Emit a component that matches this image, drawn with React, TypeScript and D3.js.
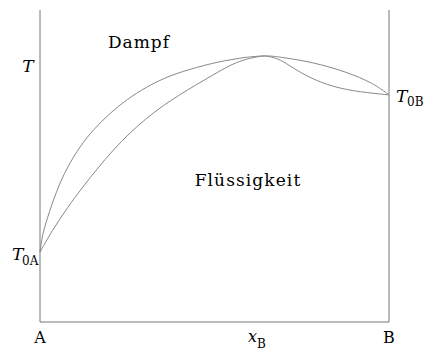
import React from 'react';
import * as d3 from 'd3';

// mole fraction x_B (0..1) and temperature (arbitrary 0..100)
const dewX = [0, 0.006, 0.019, 0.048, 0.077, 0.115, 0.153, 0.201, 0.248, 0.306, 0.353, 0.401, 0.496, 0.564, 0.6, 0.639, 0.66, 0.688, 0.782, 0.88, 0.954, 1];
const dewT = [22.4, 27.5, 32.7, 42.3, 49.4, 56.4, 61.7, 67.0, 71.3, 75.4, 78.0, 80.1, 83.1, 84.4, 85.0, 85.3, 85.3, 84.9, 83.3, 80.1, 76.6, 72.8];

const boilX = [0, 0.034, 0.08, 0.12, 0.163, 0.21, 0.258, 0.306, 0.353, 0.401, 0.444, 0.496, 0.544, 0.582, 0.621, 0.639, 0.655, 0.688, 0.725, 0.774, 0.84, 0.917, 1];
const boilT = [22.4, 29.2, 36.9, 42.9, 49.0, 55.2, 60.7, 65.4, 69.4, 72.9, 75.8, 79.2, 82.3, 84.0, 85.0, 85.3, 85.2, 84.2, 81.4, 78.2, 75.3, 73.7, 72.8];

const azeoX = 0.639;

const W = 425;
const H = 352;
const font = "'DejaVu Serif', serif";

const App = () => {
  const x = d3.scaleLinear().domain([0, 1]).range([40, 389]);
  const y = d3.scaleLinear().domain([0, 100]).range([322, 10]);

  const line = d3.line<[number, number]>()
    .x(d => x(d[0]))
    .y(d => y(d[1]))
    .curve(d3.curveBasis);

  const dew = dewX.map((v, i) => [v, dewT[i]] as [number, number]);
  const boil = boilX.map((v, i) => [v, boilT[i]] as [number, number]);

  const t0A = y(dewT[0]);
  const t0B = y(dewT[dewT.length - 1]);

  return (
    <svg width={W} height={H} style={{ position: 'absolute', left: 0, top: 0 }} fontFamily={font}>
      <rect width={W} height={H} fill="#fff" />
      <g stroke="#777" strokeWidth={1} fill="none">
        <line x1={x(0)} x2={x(0)} y1={y(100)} y2={y(0)} />
        <line x1={x(1)} x2={x(1)} y1={y(100)} y2={y(0)} />
        <line x1={x(0)} x2={x(1)} y1={y(0)} y2={y(0)} />
      </g>
      <path d={line(dew) || ''} fill="none" stroke="#888" strokeWidth={1} />
      <path d={line(boil) || ''} fill="none" stroke="#888" strokeWidth={1} />

      <text x={28} y={72} fontSize={17} fontStyle="italic" textAnchor="middle">T</text>
      <text x={139} y={48} fontSize={17} letterSpacing={1} textAnchor="middle">Dampf</text>
      <text x={248} y={186} fontSize={17} letterSpacing={1.1} textAnchor="middle">Flüssigkeit</text>

      <text x={12} y={t0A + 8} fontSize={17} fontStyle="italic">T</text>
      <text x={22} y={t0A + 13} fontSize={12}>0A</text>

      <text x={396} y={t0B + 7} fontSize={17} fontStyle="italic">T</text>
      <text x={407} y={t0B + 11} fontSize={12}>0B</text>

      <text x={x(0)} y={343} fontSize={16} textAnchor="middle">A</text>
      <text x={x(1)} y={343} fontSize={16} textAnchor="middle">B</text>
      <text x={x(azeoX) - 15} y={342} fontSize={16} fontStyle="italic">x</text>
      <text x={x(azeoX) - 6} y={348} fontSize={12}>B</text>
    </svg>
  );
};

export default App;
